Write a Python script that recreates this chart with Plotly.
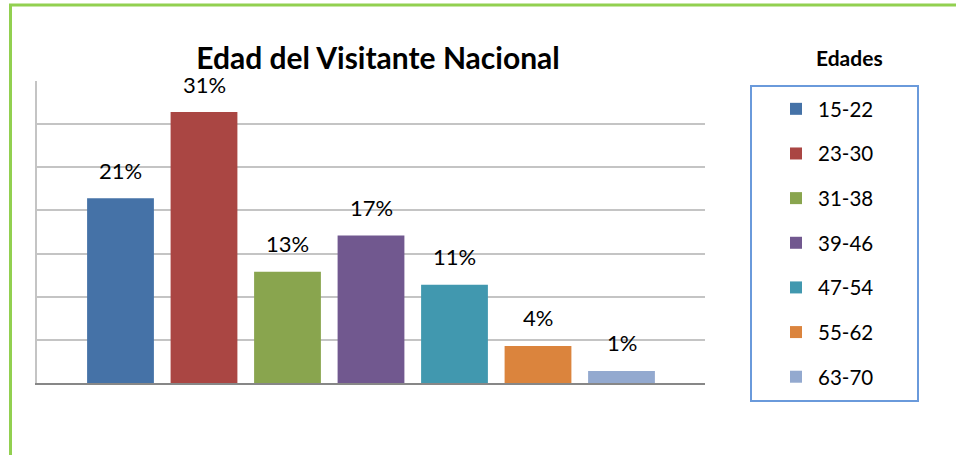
import plotly.graph_objects as go

# Data
categories = ["15-22", "23-30", "31-38", "39-46", "47-54", "55-62", "63-70"]
values = [21.4, 31.4, 12.9, 17.1, 11.4, 4.3, 1.4]
labels = ["21%", "31%", "13%", "17%", "11%", "4%", "1%"]
colors = ["#4572A7", "#AA4643", "#89A54E", "#71588F", "#4198AF", "#DB843D", "#93A9CF"]

W, H = 956, 455
L, R, T, B = 37, 705, 81, 383  # plot area in pixels
FONT = "Lato"


def px(x):
    return (x - L) / (R - L)


def py(y):
    return (B - y) / (B - T)


fig = go.Figure()
for i, (cat, v, c) in enumerate(zip(categories, values, colors)):
    fig.add_trace(go.Bar(
        x=[i], y=[v], name=cat, marker=dict(color=c, line=dict(width=0)),
        width=0.8, legendgroup=cat, hoverinfo="skip",
    ))
    fig.add_annotation(x=i, y=v, text=labels[i], showarrow=False,
                       xref="x", yref="y", yanchor="middle", yshift=28,
                       font=dict(family=FONT, size=22, color="#000000"))

# legend title
fig.add_annotation(x=px(849), y=py(58), xref="paper", yref="paper",
                   text="<b>Edades</b>", showarrow=False,
                   xanchor="center", yanchor="middle",
                   font=dict(family=FONT, size=21, color="#000000"))

shapes = [
    # legend box
    dict(type="rect", xref="paper", yref="paper", x0=px(751), x1=px(918),
         y0=py(401), y1=py(86), line=dict(color="#6A9ADB", width=2)),
    # outer green border
    dict(type="line", xref="paper", yref="paper", x0=px(10.5), x1=px(10.5),
         y0=py(4), y1=py(460), line=dict(color="#92D050", width=3)),
    dict(type="line", xref="paper", yref="paper", x0=px(9), x1=px(960),
         y0=py(5), y1=py(5), line=dict(color="#92D050", width=3)),
]

fig.update_layout(
    width=W, height=H,
    margin=dict(l=L, r=W - R, t=T, b=H - B, pad=0),
    paper_bgcolor="white", plot_bgcolor="white",
    barmode="overlay",
    showlegend=True,
    title=dict(text="<b>Edad del Visitante Nacional</b>", x=378 / W, xanchor="center",
               y=1 - 58 / H, yanchor="middle", yref="container",
               font=dict(family=FONT, size=30, color="#000000")),
    legend=dict(x=px(774), y=py(89), xanchor="left", yanchor="top",
                font=dict(family=FONT, size=20.5, color="#000000"),
                tracegroupgap=15, traceorder="grouped", itemwidth=34,
                maxheight=420,
                bgcolor="rgba(0,0,0,0)", borderwidth=0),
    xaxis=dict(range=[-1, 7], showticklabels=False, showgrid=False, zeroline=False,
               showline=True, linecolor="#878787", linewidth=2, ticks="",
               fixedrange=True),
    yaxis=dict(range=[0, 35], dtick=5, tick0=0, showticklabels=False, showgrid=True,
               gridcolor="#C4C4C4", gridwidth=2, zeroline=False,
               showline=True, linecolor="#C4C4C4", linewidth=2, ticks="",
               fixedrange=True),
    shapes=shapes,
)

fig.write_html("out.html", config={"displayModeBar": False},
               post_script="document.body.style.margin='0';")
